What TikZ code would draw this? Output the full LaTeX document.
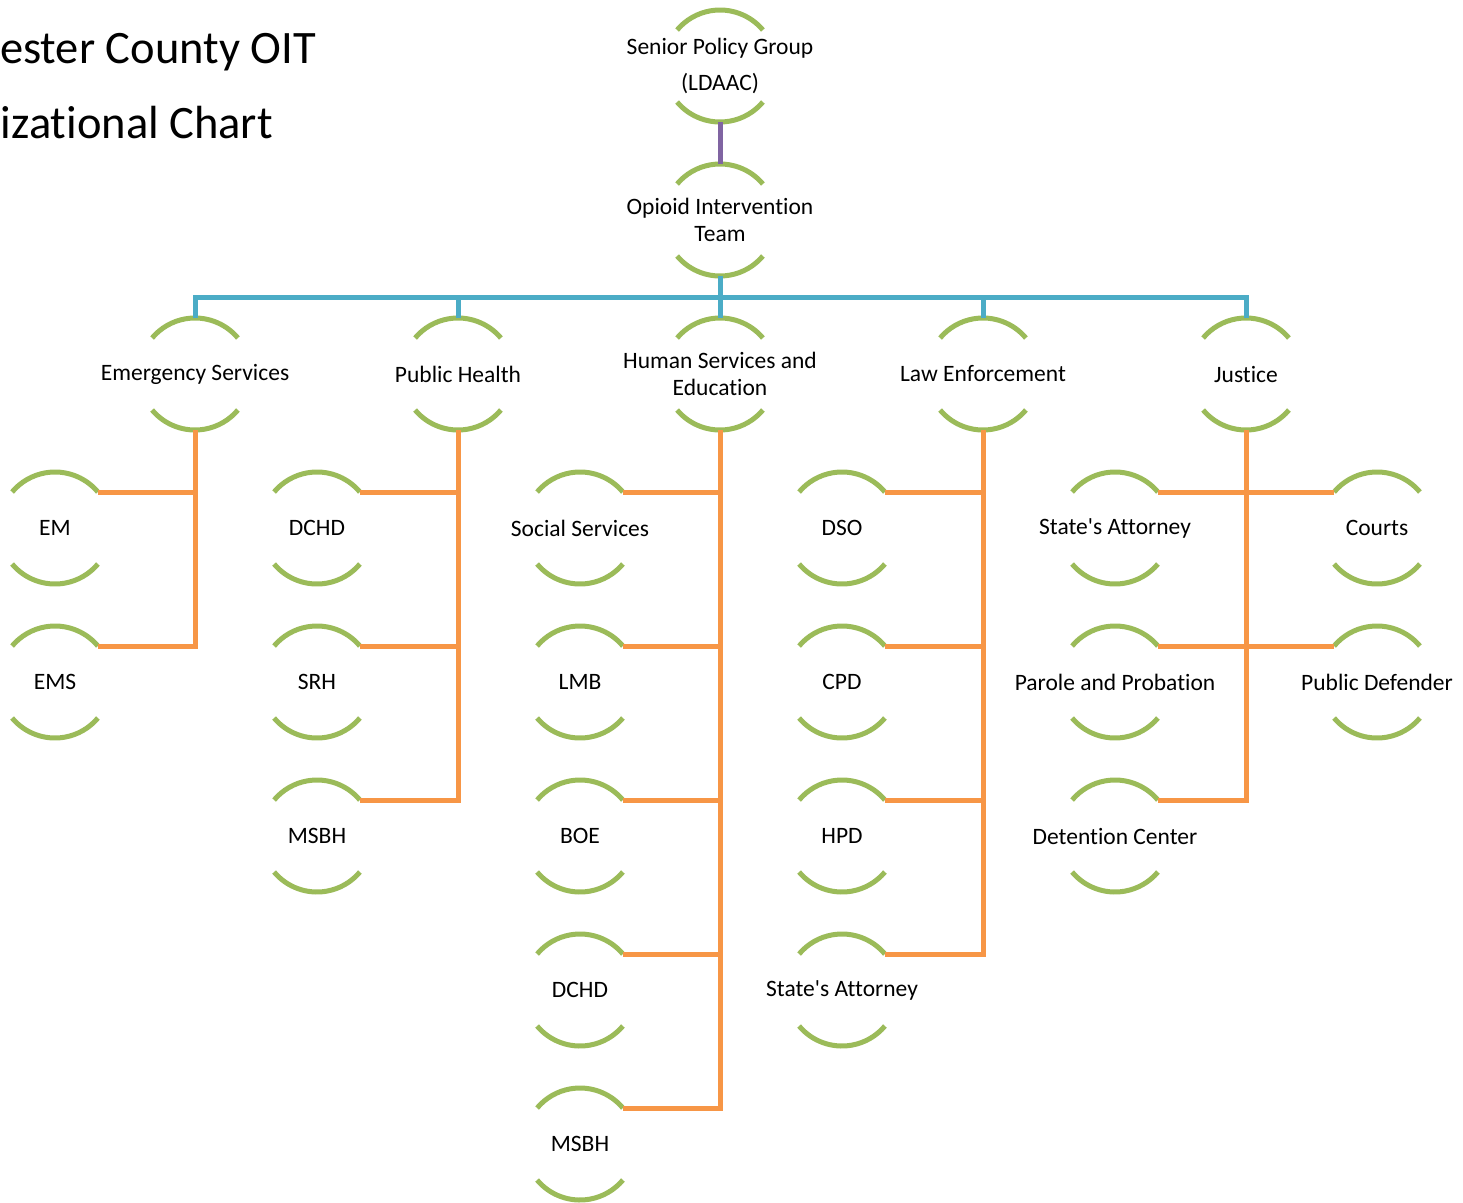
\documentclass[tikz,border=0pt]{standalone}
\usepackage{fontspec}
\setmainfont{Carlito}[Ligatures={NoCommon}]
\usetikzlibrary{calc}

\definecolor{rimgreen}{HTML}{9BBB59}
\definecolor{linkpurple}{HTML}{8064A2}
\definecolor{busblue}{HTML}{4BACC6}
\definecolor{suborange}{HTML}{F79646}

\tikzset{
    unit/.style={align=center,inner sep=0pt,font=\fontsize{23.5}{27}\selectfont},
    heading/.style={inner sep=0pt,font=\fontsize{46.5}{52}\selectfont},
    rim/.style={draw=rimgreen,line width=5pt},
    toplink/.style={draw=linkpurple,line width=5pt},
    buslink/.style={draw=busblue,line width=5pt},
    sublink/.style={draw=suborange,line width=5pt}
}

\begin{document}
\begin{tikzpicture}[x=1pt,y=1pt]

% Page frame, same size as the chart.
\useasboundingbox (0,0) rectangle (1463,-1202);

% Title in the upper left corner.
\node[heading,anchor=base east] (title1) at (316,-63) {ester County OIT};
\node[heading,anchor=base east] (title2) at (273,-138) {izational Chart};

% Top of the chart.
\node[unit] (spg) at (720,-66) {Senior Policy Group\\[9pt](LDAAC)};
\node[unit] (oit) at (720,-220) {Opioid Intervention\\Team};

% Second level, one per branch.
\foreach \n/\x/\t in {es/195/Emergency Services,
                      ph/458/Public Health,
                      hse/720/{Human Services and\\Education},
                      le/983/Law Enforcement,
                      jus/1246/Justice} {
    \node[unit] (\n) at (\x,-374) {\t};
}

% Third level. Rows are 154 apart.
\foreach \n/\x/\y/\t in {em/55/528/EM, ems/55/682/EMS,
                         dchda/317/528/DCHD, srh/317/682/SRH, msbha/317/836/MSBH,
                         soc/580/528/Social Services, lmb/580/682/LMB,
                         boe/580/836/BOE, dchdb/580/990/DCHD, msbhb/580/1144/MSBH,
                         dso/842/528/DSO, cpd/842/682/CPD, hpd/842/836/HPD,
                         sao/842/990/State\textquotesingle s Attorney,
                         saj/1115/528/State\textquotesingle s Attorney,
                         pp/1115/682/Parole and Probation,
                         dc/1115/836/Detention Center,
                         crt/1377/528/Courts, pd/1377/682/Public Defender} {
    \node[unit] (\n) at (\x,-\y) {\t};
}

% Green rims above and below every unit.
\foreach \n in {spg,oit,es,ph,hse,le,jus,em,ems,dchda,srh,msbha,
                soc,lmb,boe,dchdb,msbhb,dso,cpd,hpd,sao,saj,pp,dc,crt,pd} {
    \draw[rim]
        ($(\n.center)+(40:56)$) arc[start angle=40,end angle=140,radius=56];
    \draw[rim]
        ($(\n.center)+(220:56)$) arc[start angle=220,end angle=320,radius=56];
}

% Senior Policy Group to Opioid Intervention Team.
\draw[toplink]
    ($(spg.center)+(0,-56)$) -- ($(oit.center)+(0,56)$);

% Blue bus down to every branch.
\foreach \n in {es,ph,hse,le,jus} {
    \draw[buslink]
        % start under the team
        ($(oit.center)+(0,-56)$)
        -- ++(0,-21)
        % over and down to the branch
        -| ($(\n.center)+(0,56)$);
}

% Orange links, left hand units (from the right end of the upper rim).
\foreach \p/\c in {es/em,es/ems,
                   ph/dchda,ph/srh,ph/msbha,
                   hse/soc,hse/lmb,hse/boe,hse/dchdb,hse/msbhb,
                   le/dso,le/cpd,le/hpd,le/sao,
                   jus/saj,jus/pp,jus/dc} {
    \draw[sublink]
        ($(\c.center)+(40:56)$) -| ($(\p.center)+(0,-56)$);
}

% Orange links, right hand units under Justice.
\foreach \c in {crt,pd} {
    \draw[sublink]
        ($(\c.center)+(140:56)$) -| ($(jus.center)+(0,-56)$);
}

\end{tikzpicture}
\end{document}
